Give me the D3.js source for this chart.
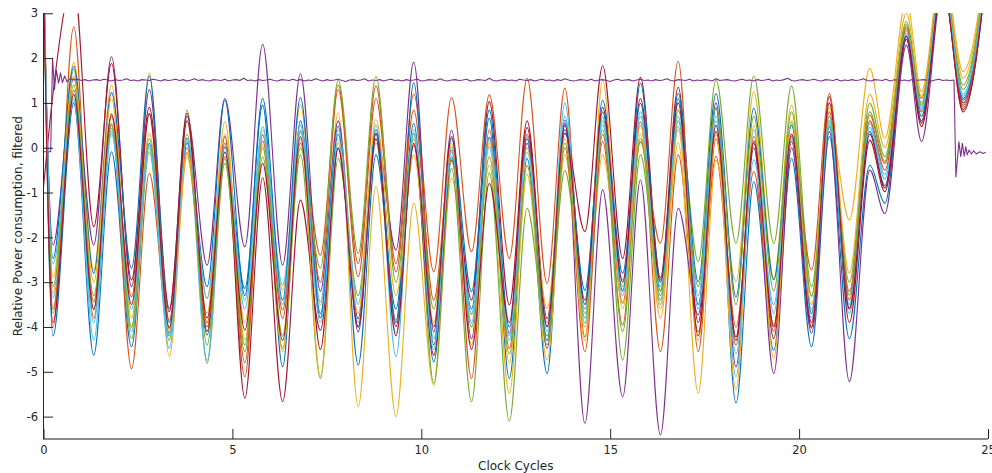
<!DOCTYPE html>
<html>
<head>
<meta charset="utf-8">
<script src="https://cdn.jsdelivr.net/npm/d3@7"></script>
<style>
  html, body { margin: 0; padding: 0; background: #fff; }
  svg { display: block; }
  text { font-family: "DejaVu Sans", Verdana, sans-serif; fill: #262626; }
</style>
</head>
<body>
<svg id="chart" width="992" height="473"></svg>
<script>
// Times (clock cycles) of the start point, each trough/peak, and the end point
const extremeTimes = [0, 0.25, 0.8, 1.33, 1.8, 2.33, 2.8, 3.33, 3.8, 4.33, 4.8, 5.33, 5.8, 6.33, 6.8,
  7.33, 7.8, 8.33, 8.8, 9.33, 9.8, 10.33, 10.8, 11.33, 11.8, 12.33, 12.8, 13.33, 13.8, 14.33, 14.8,
  15.33, 15.8, 16.33, 16.8, 17.33, 17.8, 18.33, 18.8, 19.33, 19.8, 20.33, 20.8, 21.33, 21.87, 22.27,
  22.84, 23.24, 23.8, 24.34, 25];

// Filtered power trace of each run, sampled at extremeTimes
const blueA = [4.0, -4.2, 0.99, -4.63, -0.09, -4.44, 0.10, -4.14, 0.21, -4.18, 0.02, -3.14, 0.95, -4.89, 0.6,
  -3.8, 0.48, -4.85, -0.16, -3.6, 0.54, -4.78, -0.2, -3.6, 0.66, -5.15, -0.24, -5.04, 0.62, -3.4, 1.06,
  -2.8, 0.99, -3.2, 1.1, -3.5, 0.88, -5.7, -0.76, -4.52, -0.24, -4.44, 0.25, -4.26, -0.39, -1.24,
  2.42, 0.6, 3.9, 1.06, 4.4];
const orangeA = [4.5, -4.0, 2.70, -3.81, 0.54, -4.93, -0.57, -4.2, -0.13, -3.9, -0.2, -5.11, 0.28, -3.62, 0.36,
  -2.40, 1.40, -2.58, 1.38, -2.58, 1.20, -2.77, 1.12, -2.32, 1.18, -2.47, 1.55, -3.03, 1.33, -4.22, 0.14,
  -3.96, 0.58, -4.55, -0.16, -4.11, -0.19, -4.4, 0.25, -3.96, 0.25, -4.03, 0.8, -3.21, 0.73, -0.35,
  2.7, 0.8, 4.0, 0.95, 4.5];
const yellowA = [4.2, -3.25, 1.90, -2.73, 1.40, -4.03, 1.67, -4.66, -0.2, -3.7, 0.58, -4.29, 0.40, -3.18, 0.95,
  -3.51, 0.78, -5.78, -0.87, -6.0, -1.24, -5.3, -0.68, -3.73, -0.39, -5.48, -0.59, -4.74, -0.16, -4.0, -0.16,
  -3.1, 0.5, -3.8, 0.11, -5.48, -0.28, -2.99, 1.25, -2.92, 0.95, -3.33, 0.6, -1.61, 1.77, 0.21,
  3.3, 1.25, 4.2, 1.70, 4.6];
const purpleA = [3.5, -2.17, 1.55, -2.17, 2.03, -3.1, 1.3, -3.59, 0.7, -2.62, 1.10, -2.21, 2.31, -2.62, 1.65,
  -3.2, 0.6, -4.11, 0.32, -2.28, 1.91, -4.11, 0.39, -4.26, 0.23, -4.14, 0.1, -4.48, 0.55, -6.15, -0.94,
  -5.56, -0.72, -6.41, -1.35, -3.73, 1.0, -4.89, 0.0, -5.04, 0.0, -4.14, 0.36, -5.22, -0.5, -1.47,
  2.29, 0.14, 3.6, 1.0, 4.2];
const greenA = [4.0, -3.7, 1.75, -3.62, 0.43, -4.26, -0.09, -4.3, 0.84, -4.81, -0.35, -4.55, -0.2, -4.48, -0.16,
  -5.15, -0.24, -3.3, 0.2, -3.85, 0.32, -5.25, -0.46, -5.67, -0.56, -6.1, -1.35, -4.2, -0.51, -3.6, 0.69,
  -4.74, -0.16, -3.4, 0.84, -2.54, 1.51, -2.13, 1.60, -2.13, 1.38, -3.1, 0.7, -3.29, 0.99, -0.2,
  2.81, 1.0, 3.9, 1.4, 4.5];
const lightBlueA = [4.2, -3.36, 1.1, -4.29, 0.36, -4.1, 0.0, -4.48, 0.14, -4.75, -0.09, -3.4, 0.47, -3.07, 0.5,
  -3.44, 0.4, -3.5, 0.5, -4.66, 0.4, -4.26, 0.02, -3.7, 0.02, -4.3, 0.25, -4.1, 0.99, -3.92, 0.51,
  -2.95, 0.7, -3.5, 0.47, -3.3, 0.6, -5.11, 0.4, -3.7, 0.56, -3.62, 0.62, -3.7, 0.54, -0.6,
  2.6, 0.9, 3.8, 1.2, 4.4];
const darkRedA = [-0.88, 1.2, 3.7, -1.76, 1.88, -2.95, 0.90, -3.66, 0.77, -4.1, 0.25, -5.59, -0.67, -5.67, -1.17,
  -4.07, -0.01, -3.81, 0.3, -3.99, 0.06, -4.63, -0.27, -3.40, 1.03, -3.51, 0.60, -3.81, 0.32, -1.87, 1.83,
  -2.47, 1.57, -2.9, 1.35, -3.9, 0.36, -4.22, 0.1, -4.26, 0.14, -3.9, 1.14, -3.9, 0.17, -0.98,
  2.42, 0.47, 3.7, 0.80, 4.2];
const blueB = [3.8, -2.47, 1.82, -2.8, 1.23, -2.69, 1.60, -3.9, 0.1, -3.1, 1.06, -3.3, 1.10, -3.4, 1.12,
  -3.7, 0.3, -4.0, 0.4, -3.9, 1.45, -4.4, 0.2, -3.21, 0.84, -4.0, 0.2, -4.3, 0.4, -3.18, 0.8,
  -3.2, 1.44, -2.95, 1.21, -2.99, 1.21, -3.33, 0.88, -2.95, 0.5, -3.7, 0.45, -3.58, 0.36, -0.85,
  2.48, 0.7, 3.8, 1.1, 4.4];
const orangeB = [4.6, -3.6, 1.29, -3.44, 0.7, -3.33, 0.77, -3.85, 0.0, -4.0, 0.1, -4.8, 0.15, -3.81, 0.1,
  -3.0, 1.30, -2.88, 1.10, -2.77, 0.84, -3.4, -0.05, -5.15, 0.4, -4.48, 0.3, -3.99, 0.0, -4.55, 0.3,
  -3.47, 0.13, -2.13, 1.93, -4.55, 0.2, -4.0, -0.53, -4.1, 0.3, -2.73, 1.21, -3.4, 0.6, -0.5,
  2.65, 1.1, 4.0, 0.9, 4.5];
const yellowB = [4.0, -2.9, 1.6, -3.0, 1.1, -3.8, 0.32, -4.1, -0.1, -3.36, 0.3, -3.9, 0.06, -4.55, 0.2,
  -5.1, 0.2, -3.70, 0.63, -3.3, -0.16, -3.9, 0.1, -4.4, 0.1, -4.8, -0.1, -3.59, 0.2, -4.3, 1.51,
  -3.6, 0.3, -3.6, 0.4, -4.3, 0.3, -5.4, 0.5, -4.7, 0.6, -3.5, 0.9, -2.8, 1.2, 0.0,
  3.0, 1.15, 4.1, 1.55, 4.6];
const greenB = [3.6, -3.1, 1.4, -3.3, 0.5, -4.0, 0.2, -4.0, 0.3, -4.4, -0.25, -4.4, 0.0, -4.2, 0.0,
  -2.69, 1.51, -2.36, 1.59, -3.0, 0.2, -3.6, -0.3, -4.0, -0.2, -4.6, -0.4, -4.4, 0.1, -3.8, 0.4,
  -4.1, 0.2, -3.3, 0.6, -3.1, 0.9, -3.5, 0.7, -3.2, 0.8, -3.3, 0.5, -3.0, 0.8, -0.3,
  2.75, 0.95, 3.9, 1.3, 4.5];
const lightBlueB = [4.0, -2.6, 1.05, -3.9, 0.3, -3.6, 0.05, -4.2, 0.2, -3.36, 0.0, -3.6, 0.3, -3.5, 0.4,
  -3.9, 0.1, -3.9, 0.1, -4.14, 0.3, -4.5, -0.1, -3.9, 0.2, -4.2, 0.0, -3.9, 0.7, -3.7, 0.6,
  -3.3, 0.8, -3.1, 0.7, -3.6, 0.7, -4.6, -0.27, -3.5, 0.2, -3.8, 0.55, -3.5, 0.45, -0.7,
  2.55, 0.85, 3.8, 1.15, 4.4];
const darkRedB = [3.8, -3.9, 1.19, -3.6, 0.75, -3.5, 0.75, -4.03, 0.6, -3.8, -0.1, -4.07, -0.35, -4.3, 0.25,
  -4.5, 0.0, -4.0, 0.2, -4.2, 0.1, -4.0, 0.25, -4.5, -0.8, -3.9, 0.45, -4.0, 0.5, -3.5, 0.9,
  -3.0, 1.1, -3.0, 1.0, -4.2, 0.5, -4.3, 0.15, -4.0, 0.3, -4.0, 1.0, -3.6, 0.3, -0.9,
  2.5, 0.55, 3.7, 0.85, 4.2];

// Reference-level trace: switch-on ringing, sampled plateau, switch-off ringing
const levelHead = [[0, -0.09], [0.19, -0.09], [0.24, 2.0], [0.29, 1.3], [0.34, 1.73], [0.4, 1.44],
  [0.45, 1.67], [0.5, 1.45], [0.56, 1.6], [0.62, 1.47], [0.7, 1.54]];
const levelStart = 0.8, levelStep = 0.1;
const levelPlateau = [
  1.51,1.53,1.50,1.52,1.49,1.51,1.52,1.50,1.53,1.51,1.49,1.52,1.50,1.51,1.54,1.50,1.51,1.49,1.52,1.51,1.50,1.53,1.51,1.49,1.52,1.50,1.51,1.53,1.50,1.52,
  1.49,1.51,1.54,1.50,1.52,1.50,1.49,1.52,1.51,1.50,1.53,1.49,1.51,1.52,1.50,1.55,1.50,1.51,1.49,1.52,1.50,1.51,1.53,1.50,1.49,1.52,1.51,1.50,1.53,1.50,
  1.52,1.49,1.51,1.50,1.54,1.51,1.49,1.52,1.50,1.51,1.53,1.50,1.48,1.51,1.52,1.50,1.51,1.54,1.49,1.51,1.50,1.52,1.49,1.51,1.53,1.50,1.51,1.49,1.52,1.50,
  1.51,1.53,1.49,1.50,1.52,1.51,1.50,1.54,1.50,1.49,1.51,1.52,1.50,1.51,1.53,1.49,1.50,1.52,1.51,1.50,1.55,1.50,1.49,1.51,1.52,1.50,1.51,1.49,1.53,1.51,
  1.50,1.52,1.49,1.51,1.53,1.50,1.51,1.49,1.52,1.50,1.54,1.51,1.49,1.50,1.52,1.51,1.50,1.53,1.49,1.51,1.52,1.50,1.48,1.51,1.53,1.50,1.51,1.52,1.49,1.51,
  1.53,1.50,1.51,1.49,1.52,1.50,1.51,1.54,1.50,1.49,1.52,1.51,1.50,1.53,1.49,1.51,1.50,1.52,1.51,1.49,1.54,1.50,1.51,1.52,1.50,1.49,1.51,1.53,1.50,1.51,
  1.49,1.52,1.50,1.51,1.53,1.49,1.51,1.50,1.52,1.55,1.50,1.49,1.51,1.52,1.50,1.51,1.53,1.50,1.49,1.52,1.51,1.50,1.53,1.49,1.51,1.50,1.52,1.50,1.51,1.54,
  1.50,1.49,1.52,1.51,1.50,1.53,1.49,1.51,1.52,1.50,1.51,1.49,1.53,1.50,1.51,1.52,1.50,1.49,1.51,1.53,1.50,1.51,1.50];
const levelTail = [[24.10, 1.51], [24.15, -0.65], [24.23, 0.13], [24.28, -0.2], [24.32, 0.1], [24.37, -0.19],
  [24.41, 0.02], [24.45, -0.16], [24.5, -0.05], [24.56, -0.14], [24.62, -0.07], [24.69, -0.14],
  [24.78, -0.09], [24.87, -0.13], [24.94, -0.1]];

const xTicks = [0, 5, 10, 15, 20, 25];
const yTicks = [-6, -5, -4, -3, -2, -1, 0, 1, 2, 3];

// Draw order and colours (first group, then the reference level, then the rest)
const firstRuns = [
  { values: blueA, color: "#0072BD" },
  { values: orangeA, color: "#D95319" },
  { values: yellowA, color: "#EDB120" },
  { values: purpleA, color: "#7E2F8E" },
  { values: greenA, color: "#77AC30" },
  { values: lightBlueA, color: "#4DBEEE" },
  { values: darkRedA, color: "#A2142F" },
  { values: blueB, color: "#0072BD" },
  { values: orangeB, color: "#D95319" },
  { values: yellowB, color: "#EDB120" }
];
const lastRuns = [
  { values: greenB, color: "#77AC30" },
  { values: lightBlueB, color: "#4DBEEE" },
  { values: darkRedB, color: "#A2142F" }
];
const levelColor = "#7E2F8E";

const svg = d3.select("#chart");
const plotLeft = 43.5, plotRight = 988, plotTop = 13.3, plotBottom = 439;

const x = d3.scaleLinear().domain([0, 25]).range([plotLeft, plotRight]);
const y = d3.scaleLinear().domain([-6.5, 3]).range([plotBottom, plotTop]);

svg.append("defs").append("clipPath").attr("id", "plot-clip")
  .append("rect")
  .attr("x", plotLeft).attr("y", plotTop)
  .attr("width", plotRight - plotLeft).attr("height", plotBottom - plotTop);

const plot = svg.append("g").attr("clip-path", "url(#plot-clip)");

const smoothLine = d3.line()
  .x((d, i) => x(extremeTimes[i]))
  .y(d => y(d))
  .curve(d3.curveMonotoneX);

function drawRuns(runs) {
  runs.forEach(r => {
    plot.append("path")
      .attr("d", smoothLine(r.values))
      .attr("fill", "none")
      .attr("stroke", r.color)
      .attr("stroke-width", 1.1)
      .attr("stroke-linejoin", "round");
  });
}

drawRuns(firstRuns);

const levelPoints = levelHead
  .concat(levelPlateau.map((v, i) => [levelStart + i * levelStep, v]))
  .concat(levelTail);
plot.append("path")
  .attr("d", d3.line().x(d => x(d[0])).y(d => y(d[1]))(levelPoints))
  .attr("fill", "none")
  .attr("stroke", levelColor)
  .attr("stroke-width", 1.1)
  .attr("stroke-linejoin", "round");

drawRuns(lastRuns);

// Axes
const xAxis = svg.append("g")
  .attr("transform", `translate(0,${plotBottom})`)
  .call(d3.axisBottom(x).tickValues(xTicks).tickSize(-10).tickSizeOuter(0)
    .tickPadding(6.5).tickFormat(d => String(d)));
const yAxis = svg.append("g")
  .attr("transform", `translate(${plotLeft - 0.5},0)`)
  .call(d3.axisLeft(y).tickValues(yTicks).tickSize(-10).tickSizeOuter(0)
    .tickPadding(5).tickFormat(d => String(d)));

[xAxis, yAxis].forEach(g => {
  g.selectAll("path.domain").attr("stroke", "#262626").attr("stroke-width", 1);
  g.selectAll(".tick line").attr("stroke", "#262626");
  g.selectAll(".tick text")
    .attr("fill", "#262626")
    .style("font-family", "'DejaVu Sans', Verdana, sans-serif")
    .style("font-size", "11.5px");
});
// bottom rule sits between pixel rows, so it reads as a soft grey band
xAxis.select("path.domain")
  .attr("d", `M${plotLeft - 0.5},0H${plotRight}`)
  .attr("stroke", "#8c8c8c").attr("stroke-width", 2);
yAxis.select("path.domain").attr("d", `M0.5,${plotBottom}V${plotTop}`);

svg.append("text")
  .attr("x", (plotLeft + plotRight) / 2)
  .attr("y", 469.5)
  .attr("text-anchor", "middle")
  .style("font-size", "12px")
  .text("Clock Cycles");

svg.append("text")
  .attr("transform", `translate(21.5,${(plotTop + plotBottom) / 2}) rotate(-90)`)
  .attr("text-anchor", "middle")
  .style("font-size", "12px")
  .text("Relative Power consumption, filtered");
</script>
</body>
</html>
